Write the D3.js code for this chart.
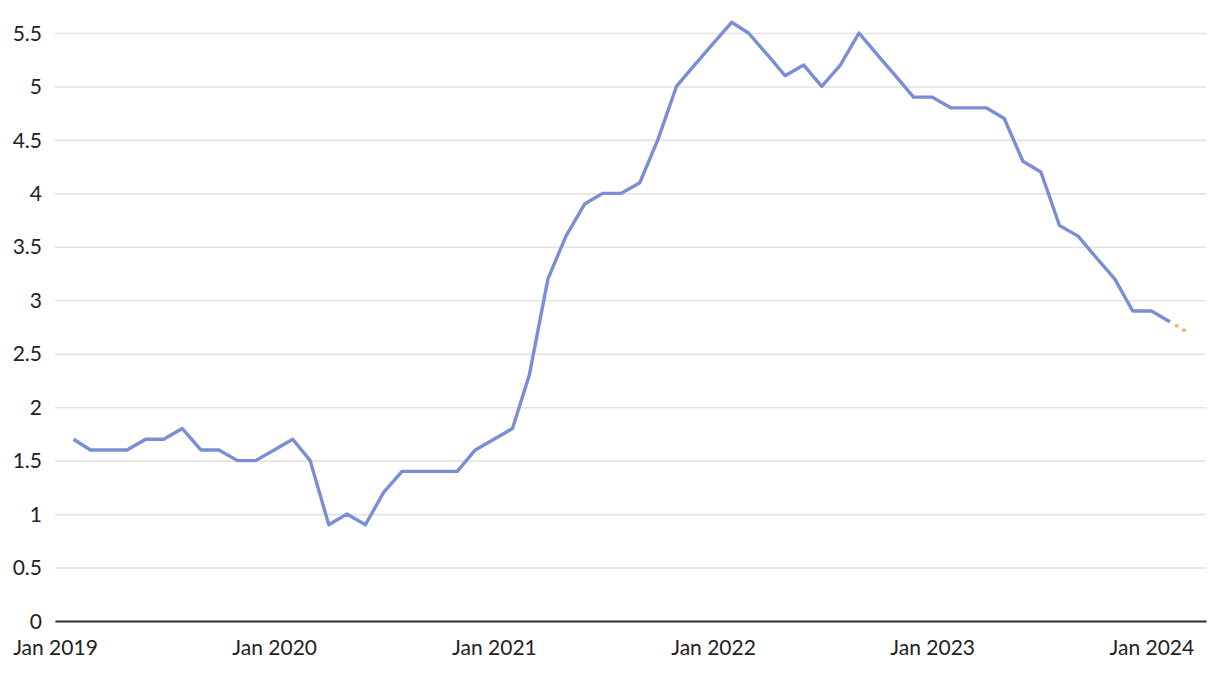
<!DOCTYPE html>
<meta charset="utf-8">
<script src="https://d3js.org/d3.v7.min.js"></script>
<style>
  body { margin: 0; background: #fff; }
  svg text { font-family: "Source Sans Pro", Lato, sans-serif; font-size: 21px; fill: #222; }
</style>
<div id="chart"></div>
<script>
// monthly values, Feb 2019 .. Feb 2024
var startMonth = "2019-02";
var values = [
  1.7, 1.6, 1.6, 1.6, 1.7, 1.7, 1.8, 1.6, 1.6, 1.5, 1.5,
  1.6, 1.7, 1.5, 0.9, 1.0, 0.9, 1.2, 1.4, 1.4, 1.4, 1.4, 1.6,
  1.7, 1.8, 2.3, 3.2, 3.6, 3.9, 4.0, 4.0, 4.1, 4.5, 5.0, 5.2,
  5.4, 5.6, 5.5, 5.3, 5.1, 5.2, 5.0, 5.2, 5.5, 5.3, 5.1, 4.9,
  4.9, 4.8, 4.8, 4.8, 4.7, 4.3, 4.2, 3.7, 3.6, 3.4, 3.2, 2.9,
  2.9, 2.8
];
// dotted continuation
var projMonths = ["2024-02", "2024-03"];
var projValues = [2.8, 2.7];

var yTicks = [0, 0.5, 1, 1.5, 2, 2.5, 3, 3.5, 4, 4.5, 5, 5.5];
var xTicks = ["2019-01", "2020-01", "2021-01", "2022-01", "2023-01", "2024-01"];

var parse = d3.timeParse("%Y-%m");
var start = parse(startMonth);
var series = values.map(function(v, i) { return {date: d3.timeMonth.offset(start, i), value: v}; });
var proj = projMonths.map(function(m, i) { return {date: parse(m), value: projValues[i]}; });

var W = 1220, H = 674;
var margin = {top: 33, right: 14, bottom: 53, left: 55};
var width = W - margin.left - margin.right,
    height = H - margin.top - margin.bottom;

var svg = d3.select("#chart").append("svg")
    .attr("width", W)
    .attr("height", H);
var g = svg.append("g")
    .attr("transform", "translate(" + margin.left + "," + margin.top + ")");

var x = d3.scaleTime()
    .domain([parse("2019-01"), parse("2024-04")])
    .range([0, width]);
var y = d3.scaleLinear()
    .domain([0, 5.5])
    .range([height, 0]);

// grid + y labels
g.append("g")
    .call(d3.axisLeft(y).tickValues(yTicks).tickSize(-width).tickPadding(13)
        .tickFormat(function(d) { return d3.format("")(d); }))
    .call(function(a) {
        a.select(".domain").remove();
        a.selectAll(".tick line").attr("stroke", "#e3e3e3").attr("stroke-width", 1.6);
        a.selectAll(".tick text").attr("fill", "#222").attr("dy", "0.34em");
    });

// x axis
g.append("g")
    .attr("transform", "translate(0," + height + ")")
    .call(d3.axisBottom(x).tickValues(xTicks.map(parse)).tickSize(0).tickPadding(19)
        .tickFormat(d3.timeFormat("%b %Y")))
    .call(function(a) {
        a.select(".domain").attr("stroke", "#333").attr("stroke-width", 2);
        a.selectAll(".tick text").attr("fill", "#222");
    });

var line = d3.line()
    .x(function(d) { return x(d.date); })
    .y(function(d) { return y(d.value); });

g.append("path")
    .datum(series)
    .attr("fill", "none")
    .attr("stroke", "#7b8dd5")
    .attr("stroke-width", 3.4)
    .attr("stroke-linejoin", "round")
    .attr("d", line);

g.append("path")
    .datum(proj)
    .attr("fill", "none")
    .attr("stroke", "#fdb262")
    .attr("stroke-width", 4)
    .attr("stroke-linecap", "round")
    .attr("stroke-dasharray", "0,8.5")
    .attr("stroke-dashoffset", -8)
    .attr("d", line);
</script>
